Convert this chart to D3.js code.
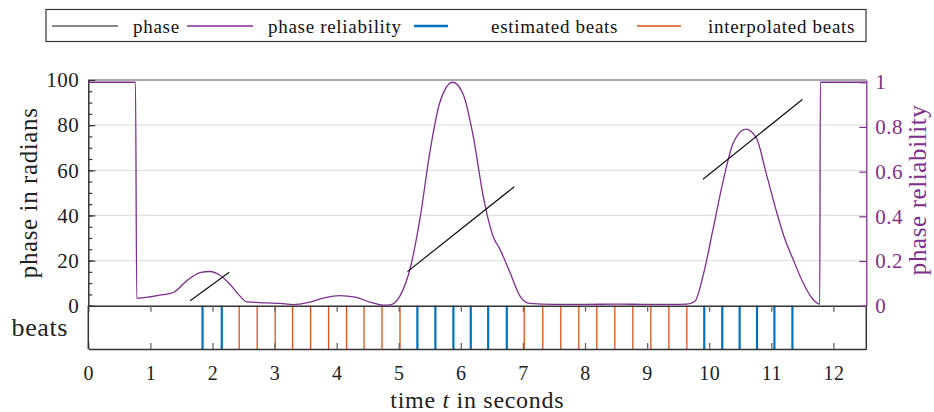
<!DOCTYPE html>
<html>
<head>
<meta charset="utf-8">
<script src="https://cdn.jsdelivr.net/npm/d3@7"></script>
<style>
  body { margin: 0; background: #fff; }
  svg text { font-family: "Liberation Serif", "Times New Roman", serif; }
</style>
</head>
<body>
<div id="chart"></div>
<script>
// phase reliability curve (time in s, value 0..1)
const relTime = [0, 0.76, 0.78, 1.0, 1.15, 1.37, 1.58, 1.80, 1.96, 2.12, 2.28, 2.44, 2.55, 2.76, 3.09, 3.3, 3.55, 3.8, 4.05, 4.3, 4.55, 4.75, 4.86, 5.02, 5.18, 5.34, 5.50, 5.66, 5.87, 6.04, 6.20, 6.36, 6.52, 6.63, 6.79, 6.95, 7.11, 7.5, 8.0, 8.5, 9.0, 9.4, 9.64, 9.77, 9.90, 10.06, 10.23, 10.39, 10.59, 10.76, 10.92, 11.09, 11.22, 11.35, 11.51, 11.67, 11.78, 11.79, 12.53]
const relValue = [1, 1, 0.033, 0.04, 0.047, 0.059, 0.11, 0.148, 0.153, 0.136, 0.096, 0.044, 0.017, 0.014, 0.01, 0.005, 0.015, 0.035, 0.045, 0.038, 0.015, 0.003, 0.004, 0.044, 0.163, 0.386, 0.685, 0.908, 1.0, 0.944, 0.758, 0.49, 0.31, 0.252, 0.15, 0.044, 0.01, 0.006, 0.006, 0.007, 0.006, 0.006, 0.007, 0.02, 0.133, 0.34, 0.565, 0.73, 0.79, 0.75, 0.59, 0.415, 0.297, 0.208, 0.104, 0.029, 0.007, 1, 1]

// phase segments: start/end time and phase
const phaseStartT = [1.64, 5.14, 9.90]
const phaseEndT = [2.27, 6.86, 11.50]
const phaseStartV = [2.2, 15.1, 56.0]
const phaseEndV = [14.8, 52.7, 91.4]

// beats
const estimatedBeats = [1.84, 2.15, 5.30, 5.59, 5.88, 6.16, 6.44, 6.74, 9.92, 10.21, 10.49, 10.77, 11.05, 11.34]
const interpolatedBeats = [2.43, 2.72, 3.01, 3.29, 3.58, 3.87, 4.16, 4.44, 4.73, 5.02, 7.02, 7.32, 7.61, 7.90, 8.19, 8.48, 8.77, 9.06, 9.35, 9.64]

const xTicks = [0, 1, 2, 3, 4, 5, 6, 7, 8, 9, 10, 11, 12]
const phaseTicks = [0, 20, 40, 60, 80, 100]
const relTicks = [0, 0.2, 0.4, 0.6, 0.8, 1]
const legendNames = ["phase", "phase reliability", "estimated beats", "interpolated beats"]

const W = 934, H = 412
const plotL = 88.3, plotR = 866.3, plotT = 80, zeroY = 305.7, beatsBottom = 349

const purple = "#7E2F8E", blue = "#0072BD", orange = "#D95319", axisCol = "#333"

const svg = d3.select("div#chart").append("svg")
    .attr("width", W)
    .attr("height", H)

const x = d3.scaleLinear().domain([0, 12.53]).range([plotL, plotR])
const yPhase = d3.scaleLinear().domain([0, 100]).range([zeroY, plotT])
const yRel = d3.scaleLinear().domain([0, 1.01]).range([zeroY, plotT])

// grid lines
svg.append("g")
    .selectAll("line")
    .data(phaseTicks.filter(d => d > 0 && d < 100))
    .enter()
    .append("line")
    .attr("x1", plotL).attr("x2", plotR)
    .attr("y1", d => yPhase(d)).attr("y2", d => yPhase(d))
    .attr("stroke", "#e3e3e3")
    .attr("stroke-width", 1.2)

// top border
svg.append("line")
    .attr("x1", plotL).attr("x2", plotR)
    .attr("y1", plotT).attr("y2", plotT)
    .attr("stroke", "#555").attr("stroke-width", 1.2)

// beats panel
svg.append("g")
    .selectAll("line")
    .data(interpolatedBeats)
    .enter()
    .append("line")
    .attr("x1", d => x(d)).attr("x2", d => x(d))
    .attr("y1", zeroY).attr("y2", beatsBottom)
    .attr("stroke", orange)
    .attr("stroke-width", 1.3)

svg.append("g")
    .selectAll("line")
    .data(estimatedBeats)
    .enter()
    .append("line")
    .attr("x1", d => x(d)).attr("x2", d => x(d))
    .attr("y1", zeroY).attr("y2", beatsBottom)
    .attr("stroke", blue)
    .attr("stroke-width", 2.2)

// x axis at the bottom, ticks inward
const xAxis = d3.axisBottom(x).tickValues(xTicks).tickSize(-6).tickPadding(17).tickSizeOuter(0)
const gx = svg.append("g")
    .attr("transform", "translate(0," + beatsBottom + ")")
    .call(xAxis)
gx.select(".domain").attr("stroke", axisCol).attr("stroke-width", 1.5)
gx.selectAll(".tick line").attr("stroke", "#666").attr("stroke-width", 1.3)
gx.selectAll(".tick text").attr("fill", "#222").style("font-size", "20px").style("letter-spacing", "0.5px")

// ticks at top of beats panel
const gxTop = svg.append("g")
    .attr("transform", "translate(0," + zeroY + ")")
    .call(d3.axisTop(x).tickValues(xTicks).tickSize(-6).tickFormat("").tickSizeOuter(0))
gxTop.select(".domain").attr("stroke", axisCol).attr("stroke-width", 1.5)
gxTop.selectAll(".tick line").attr("stroke", "#666").attr("stroke-width", 1.3)

// beats panel left/right borders
svg.append("line")
    .attr("x1", plotL).attr("x2", plotL)
    .attr("y1", zeroY).attr("y2", beatsBottom)
    .attr("stroke", axisCol).attr("stroke-width", 1.5)
svg.append("line")
    .attr("x1", plotR).attr("x2", plotR)
    .attr("y1", zeroY).attr("y2", beatsBottom)
    .attr("stroke", axisCol).attr("stroke-width", 1.5)

// left axis (phase)
const minorTicks = d3.range(0, 101, 5)
const gyMinor = svg.append("g")
    .attr("transform", "translate(" + plotL + ",0)")
    .call(d3.axisLeft(yPhase).tickValues(minorTicks).tickSize(-4).tickFormat("").tickSizeOuter(0))
gyMinor.select(".domain").remove()
gyMinor.selectAll(".tick line").attr("stroke", "#333").attr("stroke-width", 1.2)

const gy = svg.append("g")
    .attr("transform", "translate(" + plotL + ",0)")
    .call(d3.axisLeft(yPhase).tickValues(phaseTicks).tickSize(-7).tickPadding(9).tickSizeOuter(0))
gy.select(".domain").attr("stroke", axisCol).attr("stroke-width", 1.5)
gy.selectAll(".tick line").attr("stroke", "#333").attr("stroke-width", 1.2)
gy.selectAll(".tick text").attr("fill", "#222").style("font-size", "21px").style("letter-spacing", "0.5px")

// right axis (reliability)
const gyR = svg.append("g")
    .attr("transform", "translate(" + plotR + ",0)")
    .call(d3.axisRight(yRel).tickValues(relTicks).tickSize(-7).tickPadding(9).tickSizeOuter(0)
        .tickFormat(d => d === 0 || d === 1 ? d : d3.format(".1f")(d)))
gyR.select(".domain").attr("stroke", purple).attr("stroke-width", 1.3)
gyR.selectAll(".tick line").attr("stroke", purple).attr("stroke-width", 1.2)
gyR.selectAll(".tick text").attr("fill", purple).style("font-size", "21px").style("letter-spacing", "0.5px")

// reliability curve
const relLine = d3.line()
    .x(d => x(d[0]))
    .y(d => yRel(d[1]))
    .curve(d3.curveMonotoneX)
svg.append("path")
    .datum(relTime.map((t, i) => [t, relValue[i]]))
    .attr("d", relLine)
    .attr("fill", "none")
    .attr("stroke", purple)
    .attr("stroke-width", 1.3)

// phase segments
svg.append("g")
    .selectAll("line")
    .data(phaseStartT)
    .enter()
    .append("line")
    .attr("x1", (d, i) => x(phaseStartT[i]))
    .attr("x2", (d, i) => x(phaseEndT[i]))
    .attr("y1", (d, i) => yPhase(phaseStartV[i]))
    .attr("y2", (d, i) => yPhase(phaseEndV[i]))
    .attr("stroke", "#111")
    .attr("stroke-width", 1.2)

// axis titles
svg.append("text")
    .attr("transform", "translate(37," + ((plotT + zeroY) / 2) + ") rotate(-90)")
    .attr("text-anchor", "middle")
    .style("font-size", "25px")
    .style("letter-spacing", "0.6px")
    .attr("fill", "#222")
    .text("phase in radians")

svg.append("text")
    .attr("transform", "translate(926," + ((plotT + zeroY) / 2 - 3) + ") rotate(-90)")
    .attr("text-anchor", "middle")
    .style("font-size", "25px")
    .style("letter-spacing", "0.6px")
    .attr("fill", purple)
    .text("phase reliability")

svg.append("text")
    .attr("x", 68).attr("y", 336)
    .attr("text-anchor", "end")
    .style("font-size", "26px")
    .style("letter-spacing", "0.6px")
    .attr("fill", "#222")
    .text("beats")

const xt = svg.append("text")
    .attr("x", (plotL + plotR) / 2 + 0).attr("y", 408)
    .attr("text-anchor", "middle")
    .style("font-size", "24px")
    .style("letter-spacing", "0.7px")
    .attr("fill", "#222")
xt.append("tspan").text("time ")
xt.append("tspan").style("font-style", "italic").text("t")
xt.append("tspan").text(" in seconds")

// legend
const legend = svg.append("g")
legend.append("rect")
    .attr("x", 46).attr("y", 9.5)
    .attr("width", 820).attr("height", 32)
    .attr("fill", "#fff")
    .attr("stroke", "#333")
    .attr("stroke-width", 1.2)

const legX = [52, 187, 414, 637]
const legLen = [66, 66, 34, 44]
const legTextX = [133, 268, 491, 708]
const legColors = ["#111", purple, blue, orange]
const legWidths = [1.2, 1.3, 2.5, 1.3]

legendNames.forEach(function (name, i) {
    legend.append("line")
        .attr("x1", legX[i]).attr("x2", legX[i] + legLen[i])
        .attr("y1", 26).attr("y2", 26)
        .attr("stroke", legColors[i])
        .attr("stroke-width", legWidths[i])
    legend.append("text")
        .attr("x", legTextX[i]).attr("y", 33)
        .style("font-size", "19px")
        .style("letter-spacing", "0.7px")
        .attr("fill", "#111")
        .text(name)
})
</script>
</body>
</html>
